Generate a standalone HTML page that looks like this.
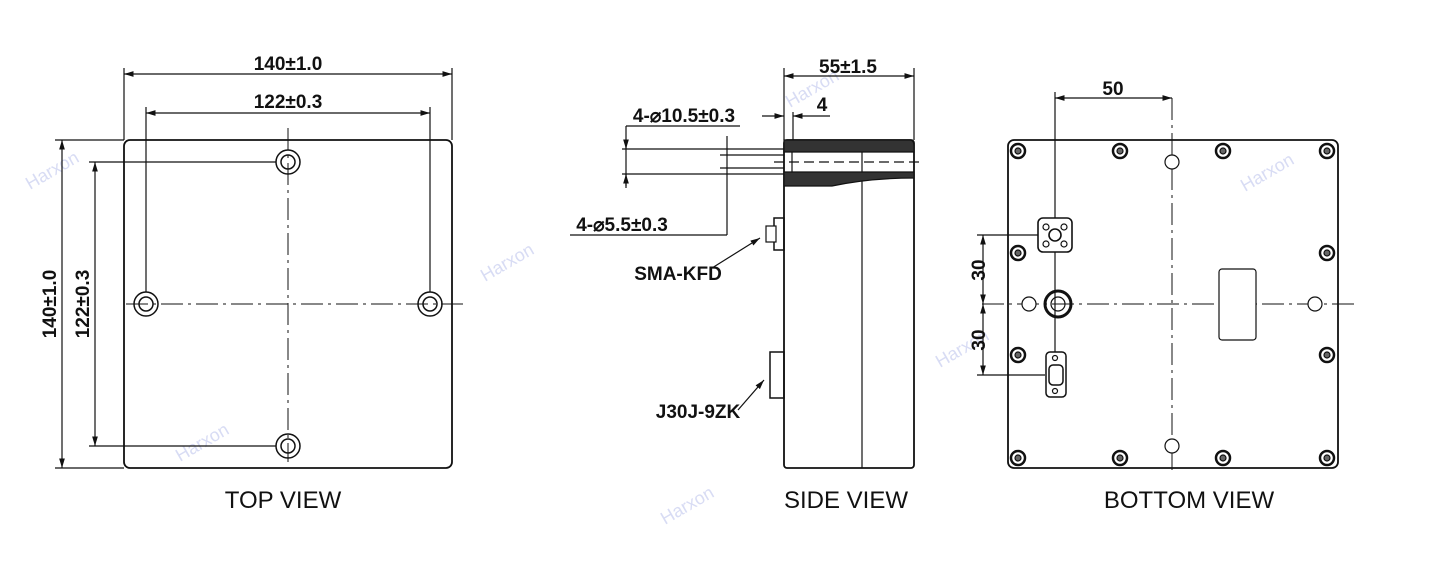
<!DOCTYPE html>
<html><head><meta charset="utf-8"><style>
body{margin:0;background:#fff;width:1445px;height:568px;overflow:hidden}
svg{display:block}
.d{font-family:"Liberation Sans Narrow","Liberation Sans",sans-serif;font-weight:bold;font-size:19px;fill:#111}
.l{font-family:"Liberation Sans",sans-serif;font-size:24px;fill:#111}
.w{font-family:"Liberation Sans",sans-serif;font-size:18px;fill:#d8dcf4}
</style></head><body>
<svg width="1445" height="568" viewBox="0 0 1445 568" stroke="#111" fill="none" stroke-width="1.2">
<defs>
<marker id="a" viewBox="0 0 10 10" refX="10" refY="5" markerWidth="8" markerHeight="8" orient="auto-start-reverse"><path d="M0,2 L10,5 L0,8z" fill="#111" stroke="none"/></marker>
<g id="sc"><circle r="7" stroke-width="2.5"/><circle r="3" fill="#666"/></g>
</defs>
<!-- watermarks -->
<g stroke="none">
<text class="w" transform="translate(30,190) rotate(-30)">Harxon</text>
<text class="w" transform="translate(485,282) rotate(-30)">Harxon</text>
<text class="w" transform="translate(180,462) rotate(-30)">Harxon</text>
<text class="w" transform="translate(790,108) rotate(-30)">Harxon</text>
<text class="w" transform="translate(940,368) rotate(-30)">Harxon</text>
<text class="w" transform="translate(1245,192) rotate(-30)">Harxon</text>
<text class="w" transform="translate(665,525) rotate(-30)">Harxon</text>
</g>
<!-- TOP VIEW -->
<rect x="124" y="140" width="328" height="328" rx="6" stroke-width="1.8"/>
<line x1="124" y1="68" x2="124" y2="140"/><line x1="452" y1="68" x2="452" y2="140"/>
<line x1="124" y1="74" x2="452" y2="74" marker-start="url(#a)" marker-end="url(#a)"/>
<text class="d" x="288" y="70" text-anchor="middle" stroke="none">140±1.0</text>
<line x1="146" y1="107" x2="146" y2="292"/><line x1="430" y1="107" x2="430" y2="292"/>
<line x1="146" y1="113" x2="430" y2="113" marker-start="url(#a)" marker-end="url(#a)"/>
<text class="d" x="288" y="108" text-anchor="middle" stroke="none">122±0.3</text>
<line x1="55" y1="140" x2="124" y2="140"/><line x1="55" y1="468" x2="124" y2="468"/>
<line x1="62" y1="140" x2="62" y2="468" marker-start="url(#a)" marker-end="url(#a)"/>
<text class="d" transform="translate(56,304) rotate(-90)" text-anchor="middle" stroke="none">140±1.0</text>
<line x1="89" y1="162" x2="276" y2="162"/><line x1="89" y1="446" x2="276" y2="446"/>
<line x1="95" y1="162" x2="95" y2="446" marker-start="url(#a)" marker-end="url(#a)"/>
<text class="d" transform="translate(89,304) rotate(-90)" text-anchor="middle" stroke="none">122±0.3</text>
<g stroke-dasharray="22,5,3,5" stroke-width="1"><line x1="126" y1="304" x2="466" y2="304"/><line x1="288" y1="128" x2="288" y2="462"/></g>
<g stroke-width="1.5">
<circle cx="288" cy="162" r="12"/><circle cx="288" cy="162" r="7"/>
<circle cx="146" cy="304" r="12"/><circle cx="146" cy="304" r="7"/>
<circle cx="430" cy="304" r="12"/><circle cx="430" cy="304" r="7"/>
<circle cx="288" cy="446" r="12"/><circle cx="288" cy="446" r="7"/>
</g>
<text class="l" x="283" y="508" text-anchor="middle" stroke="none">TOP VIEW</text>
<!-- SIDE VIEW -->
<rect x="784" y="140" width="130" height="328" rx="3" stroke-width="1.8"/>
<line x1="862" y1="140" x2="862" y2="468"/>
<path d="M784,140 H910 Q914,140 914,146 V152 H784z" fill="#333"/>
<path d="M784,172 H914 V178 Q870,178 832,186 H784z" fill="#333"/>
<line x1="792" y1="152" x2="792" y2="172"/>
<line x1="774" y1="162" x2="920" y2="162" stroke-dasharray="10,5"/>
<line x1="784" y1="68" x2="784" y2="140"/><line x1="914" y1="68" x2="914" y2="140"/>
<line x1="784" y1="76" x2="914" y2="76" marker-start="url(#a)" marker-end="url(#a)"/>
<text class="d" x="848" y="73" text-anchor="middle" stroke="none">55±1.5</text>
<line x1="793" y1="112" x2="793" y2="140"/>
<line x1="762" y1="116" x2="784" y2="116" marker-end="url(#a)"/>
<line x1="830" y1="116" x2="793" y2="116" marker-end="url(#a)"/>
<text class="d" x="822" y="111" text-anchor="middle" stroke="none">4</text>
<text class="d" x="684" y="122" text-anchor="middle" stroke="none">4-⌀10.5±0.3</text>
<line x1="626" y1="126" x2="740" y2="126"/>
<line x1="626" y1="126" x2="626" y2="188"/>
<line x1="622" y1="149" x2="784" y2="149"/><line x1="622" y1="174" x2="784" y2="174"/>
<line x1="720" y1="155" x2="784" y2="155"/><line x1="720" y1="168" x2="784" y2="168"/>
<line x1="626" y1="140" x2="626" y2="149" marker-end="url(#a)"/>
<line x1="626" y1="186" x2="626" y2="174" marker-end="url(#a)"/>
<line x1="727" y1="136" x2="727" y2="235"/>
<line x1="727" y1="235" x2="570" y2="235"/>
<text class="d" x="622" y="231" text-anchor="middle" stroke="none">4-⌀5.5±0.3</text>
<rect x="774" y="218" width="10" height="32" stroke-width="1.5"/>
<rect x="766" y="226" width="10" height="16" fill="#fff"/>
<line x1="760" y1="238" x2="712" y2="268" marker-start="url(#a)"/>
<text class="d" x="678" y="280" text-anchor="middle" stroke="none">SMA-KFD</text>
<rect x="770" y="352" width="14" height="46" stroke-width="1.5"/>
<line x1="764" y1="380" x2="738" y2="410" marker-start="url(#a)"/>
<text class="d" x="698" y="418" text-anchor="middle" stroke="none">J30J-9ZK</text>
<text class="l" x="846" y="508" text-anchor="middle" stroke="none">SIDE VIEW</text>
<!-- BOTTOM VIEW -->
<rect x="1008" y="140" width="330" height="328" rx="6" stroke-width="1.8"/>
<g stroke-dasharray="22,5,3,5" stroke-width="1"><line x1="982" y1="304" x2="1356" y2="304"/><line x1="1172" y1="98" x2="1172" y2="470"/></g>
<line x1="1055" y1="92" x2="1055" y2="396"/>
<line x1="1055" y1="98" x2="1172" y2="98" marker-start="url(#a)" marker-end="url(#a)"/>
<text class="d" x="1113" y="95" text-anchor="middle" stroke="none">50</text>
<line x1="977" y1="235" x2="1050" y2="235"/><line x1="977" y1="375" x2="1045" y2="375"/>
<line x1="983" y1="235" x2="983" y2="304" marker-start="url(#a)" marker-end="url(#a)"/>
<line x1="983" y1="304" x2="983" y2="375" marker-start="url(#a)" marker-end="url(#a)"/>
<text class="d" transform="translate(985,270) rotate(-90)" text-anchor="middle" stroke="none">30</text>
<text class="d" transform="translate(985,340) rotate(-90)" text-anchor="middle" stroke="none">30</text>
<g>
<use href="#sc" x="1018" y="151"/><use href="#sc" x="1120" y="151"/><use href="#sc" x="1223" y="151"/><use href="#sc" x="1327" y="151"/>
<use href="#sc" x="1018" y="458"/><use href="#sc" x="1120" y="458"/><use href="#sc" x="1223" y="458"/><use href="#sc" x="1327" y="458"/>
<use href="#sc" x="1018" y="253"/><use href="#sc" x="1018" y="355"/><use href="#sc" x="1327" y="253"/><use href="#sc" x="1327" y="355"/>
</g>
<circle cx="1172" cy="162" r="7" fill="#fff"/><circle cx="1172" cy="446" r="7" fill="#fff"/>
<circle cx="1029" cy="304" r="7" fill="#fff"/><circle cx="1315" cy="304" r="7" fill="#fff"/>
<rect x="1219" y="269" width="37" height="71" rx="3" fill="#fff"/>
<rect x="1038" y="218" width="34" height="34" rx="5" stroke-width="1.6" fill="#fff"/>
<circle cx="1046" cy="227" r="3"/><circle cx="1064" cy="227" r="3"/><circle cx="1046" cy="244" r="3"/><circle cx="1064" cy="244" r="3"/>
<circle cx="1055" cy="235" r="6" stroke-width="1.6"/>
<circle cx="1058" cy="304" r="13" stroke-width="3"/><circle cx="1058" cy="304" r="7"/>
<rect x="1046" y="352" width="20" height="45" rx="4" stroke-width="1.5" fill="#fff"/>
<rect x="1049" y="365" width="14" height="20" rx="4" stroke-width="1.5"/>
<circle cx="1055" cy="358" r="2.5"/><circle cx="1055" cy="391" r="2.5"/>
<text class="l" x="1189" y="508" text-anchor="middle" stroke="none">BOTTOM VIEW</text>
</svg>
</body></html>
